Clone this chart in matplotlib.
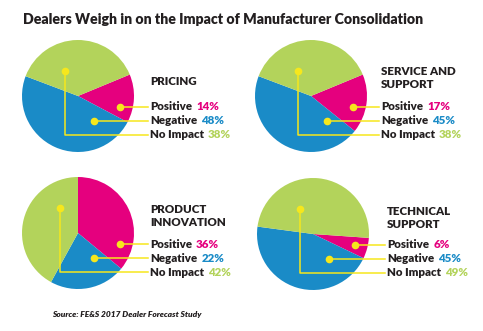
import matplotlib.pyplot as plt

W, H = 483, 331

# data
row_labels = ["Positive", "Negative", "No Impact"]
headings = ["PRICING", "SERVICE AND\nSUPPORT", "PRODUCT\nINNOVATION", "TECHNICAL\nSUPPORT"]
pricing = [14, 48, 38]
service = [17, 45, 38]
innovation = [36, 22, 42]
technical = [6, 45, 49]

colors = ["#e5007e", "#1a8bc7", "#b3d35b"]
yellow = "#f6e71c"
dark = "#231f20"
font = "Lato"

# layout per panel (pixel coords, y down): center, start angle, line end x, heading bottom y, green dot dx
panels = [
    (pricing, headings[0], (78, 96), 22.5, 148, 87, -13),
    (service, headings[1], (311, 96), 22.5, 379, 90, -13),
    (innovation, headings[2], (78, 233), 90, 148, 228, -18),
    (technical, headings[3], (313, 234), -4, 385, 230, -13),
]
R = 56


def py(y):
    return H - y


fig = plt.figure(figsize=(W / 100, H / 100), dpi=100)
ax = fig.add_axes([0, 0, 1, 1])

for vals, head, (cx, cy), start, lx, hy, gdx in panels:
    ax.pie(vals, colors=colors, startangle=start, counterclock=False,
           center=(cx, py(cy)), radius=R, wedgeprops=dict(linewidth=0))

    # yellow leader lines and dots
    dots = [(cx + 42, cy + 11), (cx + 16, cy + 25), (cx + gdx, cy - 25)]
    rows = [cy + 11, cy + 25, cy + 39]
    ax.plot([dots[0][0], lx], [py(rows[0])] * 2, color=yellow, lw=1.1, zorder=3)
    ax.plot([dots[1][0], lx], [py(rows[1])] * 2, color=yellow, lw=1.1, zorder=3)
    ax.plot([dots[2][0], dots[2][0], lx], [py(dots[2][1]), py(rows[2]), py(rows[2])],
            color=yellow, lw=1.1, zorder=3)
    for dx, dy in dots:
        ax.plot(dx, py(dy), "o", color=yellow, ms=5.5, mec="none", zorder=4)

    tx = lx + 2
    ax.text(tx, py(hy), head, fontsize=8.3, fontweight="heavy", color=dark,
            family=font, va="bottom", ha="left", linespacing=1.2)
    for lab, v, c, ry in zip(row_labels, vals, colors, rows):
        t = ax.text(tx, py(ry), lab, fontsize=8.3, fontweight="heavy", color=dark,
                    family=font, va="center", ha="left")
        ax.annotate(f"{v}%", xy=(1, 0.5), xycoords=t, xytext=(3, 0),
                    textcoords="offset points", fontsize=8.3, fontweight="heavy",
                    color=c, family=font, va="center", ha="left")

ax.set_xlim(0, W)
ax.set_ylim(0, H)
ax.set_aspect("auto")
ax.axis("off")

fig.text(23 / W, 1 - 19 / H, "Dealers Weigh in on the Impact of Manufacturer Consolidation",
         fontsize=10.2, fontweight="heavy", color=dark, family=font, va="center", ha="left")
fig.text(52 / W, 1 - 315 / H, "Source: FE&S 2017 Dealer Forecast Study",
         fontsize=6, fontweight="heavy", style="italic", color=dark, family=font,
         va="center", ha="left")

fig.savefig("out.png", dpi=100)
